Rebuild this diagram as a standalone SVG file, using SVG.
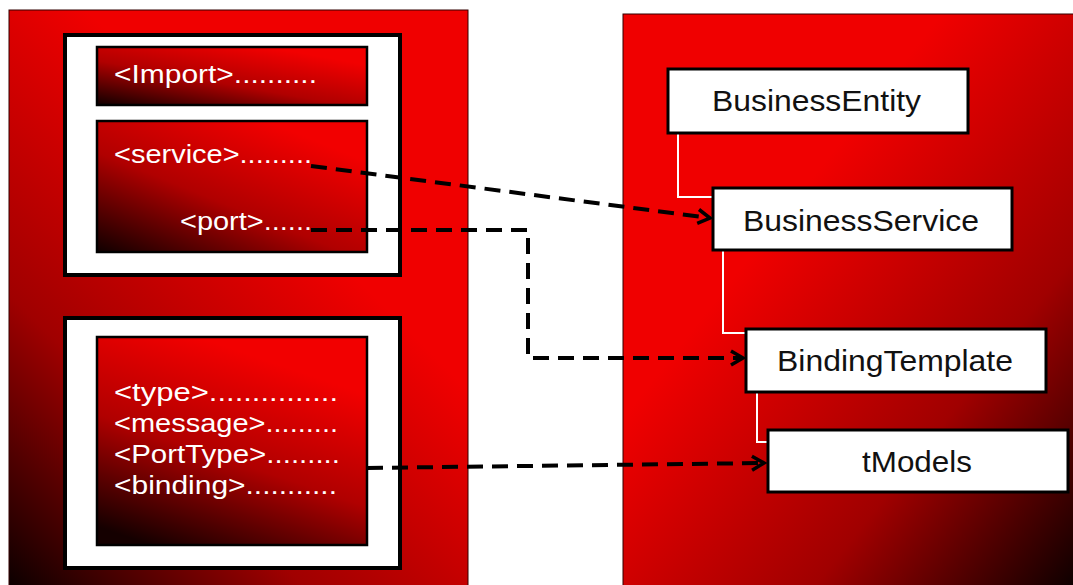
<svg xmlns="http://www.w3.org/2000/svg" width="1073" height="585" viewBox="0 0 1073 585">
<defs>
<linearGradient id="gL" x1="0.55" y1="0.3" x2="0" y2="1">
<stop offset="0" stop-color="#f00000"/><stop offset="0.55" stop-color="#a00000"/><stop offset="1" stop-color="#0a0000"/>
</linearGradient>
<linearGradient id="gR" x1="0.35" y1="0.35" x2="1" y2="1">
<stop offset="0" stop-color="#f00000"/><stop offset="0.55" stop-color="#a00000"/><stop offset="1" stop-color="#0a0000"/>
</linearGradient>
<linearGradient id="gI" x1="0.75" y1="0.1" x2="0" y2="1">
<stop offset="0" stop-color="#f20000"/><stop offset="0.5" stop-color="#b00000"/><stop offset="1" stop-color="#100000"/>
</linearGradient>
<linearGradient id="gB" x1="0.6" y1="0.1" x2="0.2" y2="1">
<stop offset="0" stop-color="#f20000"/><stop offset="0.5" stop-color="#b00000"/><stop offset="1" stop-color="#150000"/>
</linearGradient>
<marker id="arr" markerUnits="userSpaceOnUse" markerWidth="20" markerHeight="20" refX="14" refY="8" orient="auto" viewBox="0 0 20 16">
<path d="M2,1 L14,8 L2,15" fill="none" stroke="#000" stroke-width="3.5"/>
</marker>
</defs>
<style>
.panel{stroke:#300;stroke-width:1}
.frame{fill:#fff;stroke:#000;stroke-width:4}
.inner{stroke:#000;stroke-width:2.5}
.wt{font-family:"Liberation Sans",Arial,sans-serif;font-size:25px;fill:#fff;}
.node{fill:#fff;stroke:#000;stroke-width:3}
.bt{font-family:"Liberation Sans",Arial,sans-serif;font-size:30px;fill:#111;text-anchor:start}
.wl{fill:none;stroke:#fff;stroke-width:2}
.dash{fill:none;stroke:#000;stroke-width:4;stroke-dasharray:16 9}
</style>
<rect width="1073" height="585" fill="#fff"/>
<g id="wsdl-panel">
<rect class="panel" x="9" y="10" width="459" height="580" fill="url(#gL)"/>
</g>
<g id="uddi-panel">
<rect class="panel" x="623" y="14" width="455" height="576" fill="url(#gR)"/>
</g>
<g id="top-frame">
<rect class="frame" x="65" y="35" width="335" height="240"/>
</g>
<g id="import">
<rect class="inner" x="97" y="47" width="270" height="58" fill="url(#gI)"/>
<text class="wt" x="114" y="83" textLength="203" lengthAdjust="spacingAndGlyphs">&lt;Import&gt;..........</text>
</g>
<g id="service">
<rect class="inner" x="97" y="121" width="270" height="131" fill="url(#gI)"/>
<text class="wt" x="114" y="163" textLength="198" lengthAdjust="spacingAndGlyphs">&lt;service&gt;.........</text>
<text class="wt" x="180" y="230" textLength="132" lengthAdjust="spacingAndGlyphs">&lt;port&gt;......</text>
</g>
<g id="bottom-frame">
<rect class="frame" x="65" y="318" width="335" height="250"/>
</g>
<g id="definitions">
<rect class="inner" x="97" y="337" width="270" height="208" fill="url(#gB)"/>
<text class="wt" x="114" y="401" textLength="224" lengthAdjust="spacingAndGlyphs">&lt;type&gt;...............</text>
<text class="wt" x="114" y="432" textLength="224" lengthAdjust="spacingAndGlyphs">&lt;message&gt;.........</text>
<text class="wt" x="114" y="463" textLength="226" lengthAdjust="spacingAndGlyphs">&lt;PortType&gt;.........</text>
<text class="wt" x="114" y="494" textLength="223" lengthAdjust="spacingAndGlyphs">&lt;binding&gt;...........</text>
</g>
<g id="tree-lines">
<path class="wl" d="M678,133 V197 H713"/>
<path class="wl" d="M723,250 V333 H746"/>
<path class="wl" d="M757,392 V442 H768"/>
</g>
<g id="BusinessEntity">
<rect class="node" x="668" y="69" width="300" height="64"/>
<text class="bt" x="712" y="111" textLength="209" lengthAdjust="spacingAndGlyphs">BusinessEntity</text>
</g>
<g id="BusinessService">
<rect class="node" x="713" y="188" width="299" height="62"/>
<text class="bt" x="743" y="231" textLength="236" lengthAdjust="spacingAndGlyphs">BusinessService</text>
</g>
<g id="BindingTemplate">
<rect class="node" x="746" y="329" width="300" height="63"/>
<text class="bt" x="777" y="371" textLength="236" lengthAdjust="spacingAndGlyphs">BindingTemplate</text>
</g>
<g id="tModels">
<rect class="node" x="768" y="430" width="300" height="62"/>
<text class="bt" x="862" y="472" textLength="110" lengthAdjust="spacingAndGlyphs">tModels</text>
</g>
<g id="connectors">
<path class="dash" d="M311,166 L710,218" marker-end="url(#arr)"/>
<path class="dash" d="M311,230 H528 V358 H743" marker-end="url(#arr)"/>
<path class="dash" d="M367,468 L764,463" marker-end="url(#arr)"/>
</g>
</svg>
